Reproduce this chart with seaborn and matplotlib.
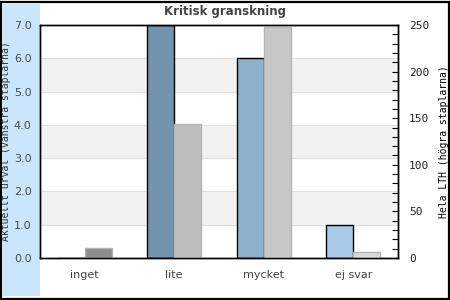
import matplotlib
matplotlib.use("Agg")
import matplotlib.pyplot as plt
from matplotlib.patches import Rectangle
from matplotlib.ticker import MultipleLocator, FormatStrFormatter
import seaborn as sns
import numpy as np

categories = ["inget", "lite", "mycket", "ej svar"]
left_values = [0, 7, 6, 1]          # Aktuellt urval
right_values = [11, 144, 248, 6]    # Hela LTH
left_colors = ["#7394ae", "#7394ae", "#8fb0cb", "#a9cbe8"]
right_colors = ["#8c8c8c", "#bebebe", "#c8c8c8", "#d9d9d9"]
title = "Kritisk granskning"
left_label = "Aktuellt urval (vänstra staplarna)"
right_label = "Hela LTH (högra staplarna)"

sns.set_theme(style="white")
plt.rcParams["font.family"] = ["DejaVu Sans"]

fig = plt.figure(figsize=(4.5, 3.0), dpi=100)
fig.patch.set_facecolor("white")
fig.patches.append(Rectangle((3/450, 4/300), 37/450, 292/300, transform=fig.transFigure,
                             facecolor="#c9e6fc", edgecolor="none", zorder=-5))
fig.patches.append(Rectangle((0.5/450, 1.5/300), 448.5/450, 297/300, transform=fig.transFigure,
                             facecolor="none", edgecolor="black", linewidth=1.6, zorder=10))

ax = fig.add_axes([40/450, 42/300, 358/450, 233/300])
ax.set_facecolor("white")

idx = np.arange(len(categories))
bw = 0.3

for lo in [1, 3, 5]:
    ax.axhspan(lo, lo + 1, color="#f2f2f2", zorder=0, lw=0)
for y in range(0, 8):
    ax.axhline(y, color="#e0e0e0", lw=0.8, zorder=0.5)

sns.barplot(x=idx - bw / 2, y=left_values, hue=categories, hue_order=categories,
            palette=left_colors, native_scale=True, width=bw, dodge=False,
            ax=ax, legend=False, errorbar=None, zorder=2, saturation=1,
            edgecolor="black", linewidth=1.0)

ax.set_ylim(0, 7)
ax.set_xlim(-0.5, 3.5)
ax.set_xticks(idx)
ax.set_xticklabels(categories)
ax.yaxis.set_major_locator(MultipleLocator(1))
ax.yaxis.set_major_formatter(FormatStrFormatter("%.1f"))
ax.tick_params(axis="y", length=0, labelsize=8, labelcolor="#4a4a4a", pad=6)
ax.tick_params(axis="x", length=0, labelsize=8, labelcolor="#444444", pad=9)
ax.set_xlabel("")
ax.set_ylabel(left_label, family="DejaVu Sans Mono", fontsize=7.0, color="#333333", labelpad=2)
for s in ax.spines.values():
    s.set_visible(True)
    s.set_color("black")
    s.set_linewidth(1.0)

ax2 = ax.twinx()
sns.barplot(x=idx + bw / 2, y=right_values, hue=categories, hue_order=categories,
            palette=right_colors, native_scale=True, width=bw, dodge=False,
            ax=ax2, legend=False, errorbar=None, zorder=2, saturation=1,
            edgecolor="#b4b4b4", linewidth=1.0)
ax2.set_ylim(0, 250)
ax2.set_xlim(-0.5, 3.5)
ax2.yaxis.set_major_locator(MultipleLocator(50))
ax2.yaxis.set_minor_locator(MultipleLocator(10))
ax2.tick_params(axis="y", which="major", direction="in", length=4, width=0.8, color="black",
                labelsize=8, labelcolor="#222222", pad=8)
ax2.tick_params(axis="y", which="minor", direction="in", length=4, width=0.8, color="black")
for lab in ax2.get_yticklabels():
    lab.set_family("DejaVu Sans Mono")
ax2.set_ylabel(right_label, family="DejaVu Sans Mono", fontsize=7, color="black", labelpad=7)
ax2.set_xlabel("")
for s in ax2.spines.values():
    s.set_visible(True)
    s.set_color("black")
    s.set_linewidth(1.0)

fig.text(225/450, 1 - 12/300, title, ha="center", va="center", fontsize=8.5,
         fontweight="bold", color="#444444")

fig.savefig("out.png", dpi=100)
